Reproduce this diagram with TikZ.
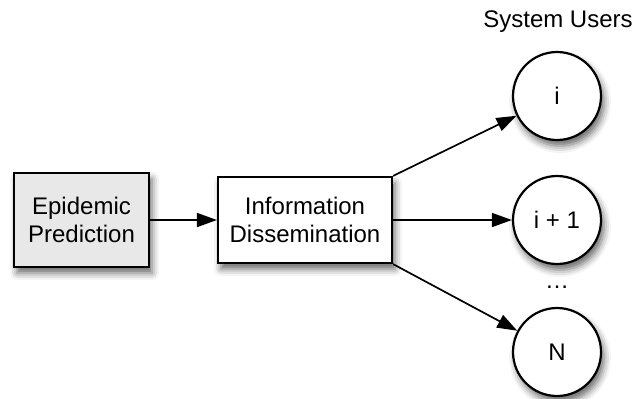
\documentclass[tikz,border=0pt]{standalone}
\usepackage{fontspec}
\setmainfont{Liberation Sans}
\usetikzlibrary{arrows.meta,shadows.blur}

\tikzset{
  px/.style={x=0.5pt,y=-0.5pt},
  shade3d/.style={blur shadow={shadow xshift=1.5pt,shadow yshift=-3pt,
      shadow blur radius=3.5pt,shadow opacity=60}},
  stagebox/.style={draw=black,line width=1.1pt,align=center,inner sep=0pt,
      font=\fontsize{12}{14}\selectfont,shade3d},
  userdisc/.style={circle,draw=black,line width=1.1pt,fill=white,
      minimum size=44pt,inner sep=0pt,font=\fontsize{12}{14}\selectfont,shade3d},
  flow/.style={line width=0.85pt,-{Triangle[length=10pt,width=7pt]}},
}

\begin{document}
\begin{tikzpicture}[px]
  \useasboundingbox (0,0) rectangle (635,398);

  % processing stages
  \node[stagebox,fill=black!9,minimum width=67.5pt,minimum height=47pt]
    (pred) at (81.5,220) {Epidemic\\Prediction};
  \node[stagebox,fill=white,minimum width=87pt,minimum height=43pt]
    (info) at (305,220) {Information\\Dissemination};

  % receiving users
  \node[font=\fontsize{12}{14}\selectfont] (hdr) at (558,22) {System Users};
  \node[userdisc] (ui) at (557,96) {i};
  \node[userdisc] (uj) at (557,220) {i + 1};
  \node[font=\fontsize{12}{14}\selectfont] (dots) at (557,287) {\dots};
  \node[userdisc] (un) at (557,352) {N};

  % connectors
  \draw[flow] (pred) -- (info);
  \draw[flow] (info.north east) -- (ui);
  \draw[flow] (info.east) -- (uj);
  \draw[flow] (info.south east) -- (un);
\end{tikzpicture}
\end{document}
